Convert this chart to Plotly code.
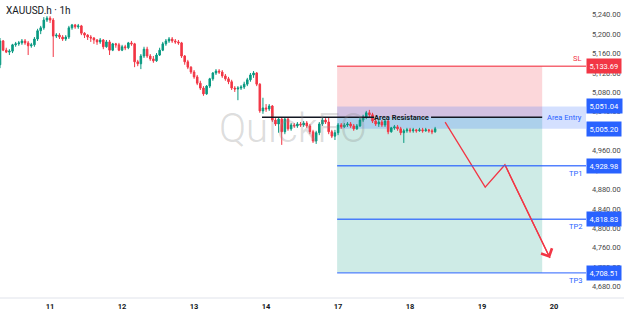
import plotly.graph_objects as go

# ---------------- data ----------------
day_labels = ["11", "12", "13", "14", "17", "18", "19", "20"]
day_start_bar = [16, 39, 62, 85, 108, 131, 154, 177]

opens = [5137, 5186, 5167, 5163, 5165, 5178, 5180, 5182, 5186, 5182,
         5176, 5178, 5190, 5207, 5213, 5229, 5233, 5229, 5196, 5198,
         5194, 5190, 5194, 5213, 5219, 5215, 5217, 5202, 5198, 5194,
         5192, 5188, 5184, 5188, 5174, 5184, 5167, 5180, 5178, 5167,
         5174, 5172, 5182, 5180, 5143, 5139, 5155, 5169, 5155, 5149,
         5145, 5157, 5167, 5180, 5186, 5190, 5186, 5184, 5182, 5155,
         5143, 5132, 5122, 5112, 5099, 5089, 5077, 5093, 5108, 5120,
         5124, 5122, 5114, 5108, 5102, 5089, 5087, 5089, 5091, 5097,
         5106, 5116, 5120, 5097, 5042, 5048, 5046, 5052, 5023, 5015,
         5025, 4999, 5025, 5005, 5013, 5011, 5015, 5013, 5017, 5011,
         4999, 4980, 4997, 5015, 5023, 5019, 4999, 4990, 4997, 5013,
         5009, 5013, 5015, 5011, 5005, 5011, 5023, 5029, 5038, 5034,
         5021, 5015, 5019, 5013, 5021, 4999, 5007, 5009, 5005, 4997,
         5001, 5003, 5001, 5003, 5001, 5003, 5001, 5003, 5001, 4999]
highs = [5192, 5188, 5172, 5169, 5180, 5184, 5186, 5190, 5190, 5186,
         5182, 5194, 5211, 5217, 5235, 5237, 5237, 5233, 5202, 5202,
         5198, 5198, 5217, 5221, 5221, 5221, 5219, 5204, 5200, 5198,
         5194, 5190, 5192, 5190, 5188, 5188, 5182, 5182, 5182, 5178,
         5178, 5184, 5186, 5182, 5147, 5159, 5174, 5174, 5159, 5155,
         5161, 5172, 5184, 5190, 5194, 5194, 5190, 5188, 5184, 5157,
         5147, 5134, 5126, 5116, 5104, 5093, 5095, 5110, 5122, 5128,
         5128, 5126, 5118, 5112, 5106, 5093, 5093, 5095, 5102, 5110,
         5120, 5124, 5122, 5099, 5069, 5056, 5056, 5054, 5027, 5029,
         5029, 5029, 5029, 5017, 5017, 5019, 5019, 5021, 5021, 5015,
         5003, 5001, 5019, 5029, 5027, 5029, 5003, 5003, 5017, 5017,
         5017, 5019, 5019, 5015, 5015, 5029, 5034, 5042, 5044, 5038,
         5025, 5023, 5023, 5025, 5023, 5009, 5013, 5013, 5009, 5005,
         5007, 5007, 5007, 5005, 5007, 5007, 5007, 5005, 5005, 5009]
lows = [5130, 5165, 5161, 5157, 5161, 5174, 5176, 5178, 5178, 5157,
        5172, 5174, 5186, 5200, 5209, 5225, 5223, 5153, 5192, 5190,
        5186, 5186, 5190, 5209, 5211, 5211, 5198, 5192, 5188, 5184,
        5180, 5178, 5180, 5169, 5172, 5157, 5165, 5172, 5165, 5165,
        5167, 5169, 5176, 5132, 5134, 5128, 5151, 5151, 5145, 5141,
        5143, 5155, 5165, 5176, 5182, 5182, 5180, 5178, 5151, 5137,
        5128, 5118, 5108, 5095, 5085, 5073, 5075, 5089, 5104, 5116,
        5118, 5110, 5104, 5097, 5085, 5081, 5064, 5085, 5087, 5093,
        5102, 5110, 5093, 5038, 5036, 5040, 5042, 5019, 5011, 4997,
        4972, 4994, 5001, 5001, 5007, 5007, 5009, 5009, 5007, 4994,
        4976, 4974, 4992, 5011, 5015, 4994, 4986, 4982, 4992, 5005,
        5007, 5009, 5007, 5001, 5003, 5009, 5019, 5025, 5029, 5017,
        5011, 5009, 5009, 5009, 4994, 4997, 5003, 5001, 4992, 4976,
        4997, 4997, 4997, 4997, 4999, 4997, 4999, 4997, 4994, 4997]
closes = [5186, 5167, 5163, 5165, 5178, 5180, 5182, 5186, 5182, 5176,
          5178, 5190, 5207, 5213, 5229, 5233, 5229, 5196, 5198, 5194,
          5190, 5194, 5213, 5219, 5215, 5217, 5202, 5198, 5194, 5192,
          5188, 5184, 5188, 5174, 5184, 5167, 5180, 5178, 5167, 5174,
          5172, 5182, 5180, 5143, 5139, 5155, 5169, 5155, 5149, 5145,
          5157, 5167, 5180, 5186, 5190, 5186, 5184, 5182, 5155, 5143,
          5132, 5122, 5112, 5099, 5089, 5077, 5093, 5108, 5120, 5124,
          5122, 5114, 5108, 5102, 5089, 5087, 5089, 5091, 5097, 5106,
          5116, 5120, 5097, 5042, 5048, 5046, 5052, 5023, 5015, 5025,
          4999, 5025, 5005, 5013, 5011, 5015, 5013, 5017, 5011, 4999,
          4980, 4997, 5015, 5023, 5019, 4999, 4990, 4997, 5013, 5009,
          5013, 5015, 5011, 5005, 5011, 5023, 5029, 5038, 5034, 5021,
          5015, 5019, 5013, 5021, 4999, 5007, 5009, 5005, 4997, 5001,
          5003, 5001, 5003, 5001, 5003, 5001, 5003, 5001, 4999, 5005]
bars = list(range(len(opens)))

sl_price = 5133.69
entry_top = 5051.04
entry_bottom = 5005.20
entry_price = 5029
tp_prices = [4928.98, 4818.83, 4708.51]
tp_names = ["TP1", "TP2", "TP3"]
resistance_price = 5029

zone_start_bar = 107.7
zone_end_bar = 173.2
resistance_start_bar = 83.7
resistance_text_bar = 128.1
resistance_gap_bars = [119.5, 137.7]

arrow_bars = [142.2, 155.0, 161.3, 175.7]
arrow_prices = [5019, 4885, 4931, 4739]

x_range = [0, 187.2]
y_range = [4656.7, 5270.3]
y_ticks = list(range(4680, 5241, 40))

# ---------------- styles ----------------
GREEN = "#089981"
RED = "#f23645"
BLUE = "#2962ff"
FONT = "Roboto, 'Noto Sans', sans-serif"

fig = go.Figure()

fig.add_trace(go.Candlestick(
    x=bars, open=opens, high=highs, low=lows, close=closes,
    increasing=dict(line=dict(color=GREEN, width=1), fillcolor=GREEN),
    decreasing=dict(line=dict(color=RED, width=1), fillcolor=RED),
    whiskerwidth=0, showlegend=False, hoverinfo="skip",
))

fig.add_trace(go.Scatter(
    x=arrow_bars, y=arrow_prices, mode="lines",
    line=dict(color=RED, width=1.3), showlegend=False, hoverinfo="skip",
))

shapes = []
# risk (pink) zone
shapes.append(dict(type="rect", xref="x", yref="y", x0=zone_start_bar, x1=zone_end_bar,
                   y0=entry_price, y1=sl_price, fillcolor="rgba(242,54,69,0.2)",
                   line=dict(width=0), layer="below"))
# reward (green) zone
shapes.append(dict(type="rect", xref="x", yref="y", x0=zone_start_bar, x1=zone_end_bar,
                   y0=tp_prices[-1], y1=entry_price, fillcolor="rgba(8,153,129,0.2)",
                   line=dict(width=0), layer="below"))
# entry band
shapes.append(dict(type="rect", xref="x", yref="y", x0=zone_start_bar, x1=x_range[1],
                   y0=entry_bottom, y1=entry_top, fillcolor="rgba(41,98,255,0.2)",
                   line=dict(width=0), layer="below"))
# SL line
shapes.append(dict(type="line", xref="x", yref="y", x0=zone_start_bar, x1=x_range[1],
                   y0=sl_price, y1=sl_price, line=dict(color="rgba(242,54,69,0.75)", width=1.5)))
# TP lines
for p in tp_prices:
    shapes.append(dict(type="line", xref="x", yref="y", x0=zone_start_bar, x1=x_range[1],
                       y0=p, y1=p, line=dict(color="rgba(41,98,255,0.8)", width=1.3)))
# resistance line (broken around the text)
shapes.append(dict(type="line", xref="x", yref="y", x0=resistance_start_bar, x1=resistance_gap_bars[0],
                   y0=resistance_price, y1=resistance_price, line=dict(color="#131722", width=1.5)))
shapes.append(dict(type="line", xref="x", yref="y", x0=resistance_gap_bars[1], x1=zone_end_bar,
                   y0=resistance_price, y1=resistance_price, line=dict(color="#131722", width=1.5)))
# time axis separator
shapes.append(dict(type="line", xref="paper", yref="paper", x0=0, x1=1.07, y0=0, y1=0,
                   line=dict(color="#e0e3eb", width=1)))

annotations = []
annotations.append(dict(xref="paper", yref="paper", x=0.5, y=0.57, text="QuickFO",
                        showarrow=False, font=dict(family=FONT, size=40, color="rgba(140,140,140,0.3)", weight=300)))
annotations.append(dict(xref="paper", yref="paper", x=0, y=1, xshift=4, yshift=-3,
                        xanchor="left", yanchor="top", text="XAUUSD.h · 1h", showarrow=False,
                        font=dict(family=FONT, size=10, color="#131722")))
annotations.append(dict(xref="x", yref="y", x=resistance_text_bar, y=resistance_price,
                        text="<b>Area Resistance</b>", showarrow=False,
                        font=dict(family=FONT, size=7.5, color="#131722")))
annotations.append(dict(xref="paper", yref="y", x=1, xshift=-2, y=sl_price, yshift=1,
                        xanchor="right", yanchor="bottom", text="SL", showarrow=False,
                        font=dict(family=FONT, size=7.5, color=RED)))
annotations.append(dict(xref="paper", yref="y", x=1, xshift=-2, y=(entry_top + entry_bottom) / 2,
                        xanchor="right", yanchor="middle", text="Area Entry", showarrow=False,
                        font=dict(family=FONT, size=7.5, color=BLUE)))
for p, n in zip(tp_prices, tp_names):
    annotations.append(dict(xref="paper", yref="y", x=1, xshift=-2, y=p, yshift=-1,
                            xanchor="right", yanchor="top", text=n, showarrow=False,
                            font=dict(family=FONT, size=7.5, color=BLUE)))

# price tags
tag_list = [(sl_price, RED), (entry_top, BLUE), (entry_bottom, BLUE)] + [(p, BLUE) for p in tp_prices]
for p, c in tag_list:
    annotations.append(dict(xref="paper", yref="y", x=1, y=p, xanchor="left", yanchor="middle",
                            text=f"{p:,.2f}", showarrow=False, bgcolor=c, borderpad=2.5,
                            font=dict(family=FONT, size=7.5, color="white")))

# arrow head on the last leg
annotations.append(dict(xref="x", yref="y", axref="x", ayref="y",
                        x=arrow_bars[-1], y=arrow_prices[-1], ax=arrow_bars[-2], ay=arrow_prices[-2],
                        text="", showarrow=True, arrowhead=4, arrowsize=1.8, arrowwidth=1.3,
                        arrowcolor=RED, standoff=0))

fig.update_layout(
    width=624, height=316,
    margin=dict(l=0, r=38, t=0, b=18),
    paper_bgcolor="white", plot_bgcolor="white",
    shapes=shapes, annotations=annotations,
    showlegend=False,
    font=dict(family=FONT, size=7.5, color="#131722"),
    xaxis=dict(range=x_range, showgrid=False, zeroline=False, showline=False,
               tickvals=day_start_bar, ticktext=day_labels, ticks="",
               tickfont=dict(family=FONT, size=7.5, color="#131722", weight="bold"),
               ticklabelstandoff=2,
               rangeslider=dict(visible=False), fixedrange=True),
    yaxis=dict(range=y_range, side="right", showgrid=False, zeroline=False, showline=False,
               tickvals=y_ticks, tickformat=",.2f", ticks="", ticklabelstandoff=5,
               tickfont=dict(family=FONT, size=7.5, color="#4a4a4a"), fixedrange=True),
)

fig.write_html("out.html")
